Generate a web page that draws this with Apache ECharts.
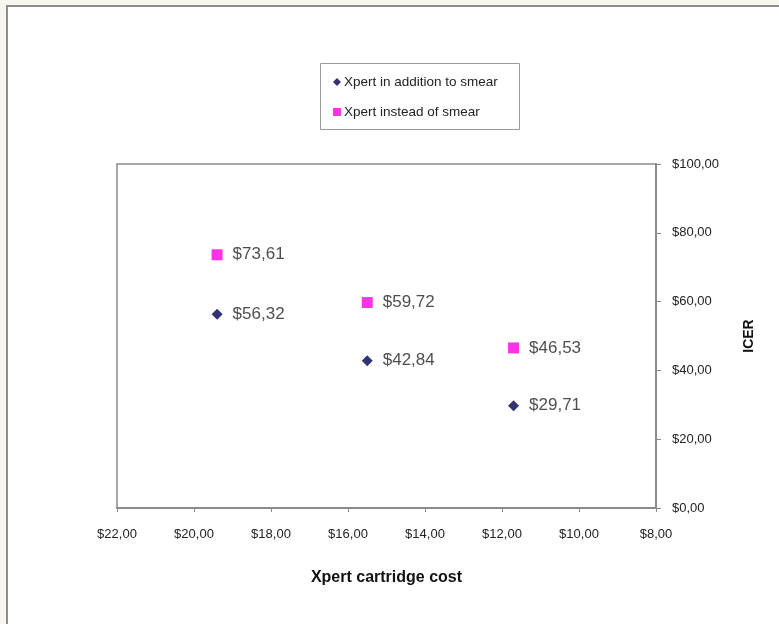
<!DOCTYPE html>
<html>
<head>
<meta charset="utf-8">
<script src="https://cdn.jsdelivr.net/npm/echarts@6/dist/echarts.min.js"></script>
<style>
html,body{margin:0;padding:0;background:#f6f6ef;}
#c{width:779px;height:624px;}
</style>
</head>
<body>
<div id="c"></div>
<script>
const cartridgeCost = [19.4, 15.5, 11.7];
const icerAddition = [56.32, 42.84, 29.71];
const icerInstead = [73.61, 59.72, 46.53];
const seriesNames = ['Xpert in addition to smear', 'Xpert instead of smear'];
const xTitle = 'Xpert cartridge cost';
const yTitle = 'ICER';

function money(v) { return '$' + Number(v).toFixed(2).replace('.', ','); }

const chart = echarts.init(document.getElementById('c'), null, {renderer: 'canvas'});
const font = 'Liberation Sans, Arial, sans-serif';
const axisGray = '#8a8a8a';

chart.setOption({
  backgroundColor: 'transparent',
  animation: false,
  graphic: [
    {
      type: 'rect', z: -10,
      shape: {x: 7, y: 6, width: 800, height: 650},
      style: {fill: '#ffffff', stroke: '#8c8c8c', lineWidth: 2}
    },
    {
      type: 'rect', z: -5,
      shape: {x: 320.5, y: 63.5, width: 199, height: 66},
      style: {fill: '#ffffff', stroke: '#9a9a9a', lineWidth: 1}
    }
  ],
  legend: {
    left: 333, top: 75,
    orient: 'vertical',
    padding: 0,
    itemGap: 16,
    itemWidth: 8, itemHeight: 8,
    textStyle: {fontFamily: font, fontSize: 13.5, color: '#222', padding: [0, 0, 0, -2]},
    data: [
      {name: seriesNames[0], icon: 'diamond'},
      {name: seriesNames[1], icon: 'rect'}
    ]
  },
  grid: {
    left: 117, top: 164, right: 123, bottom: 116,
    show: true, borderColor: axisGray, borderWidth: 1.5, backgroundColor: '#fff'
  },
  xAxis: {
    type: 'value', inverse: true, min: 8, max: 22, interval: 2,
    name: xTitle, nameLocation: 'middle', nameGap: 62,
    nameTextStyle: {fontFamily: font, fontSize: 16, fontWeight: 'bold', color: '#111'},
    axisLine: {show: true, onZero: false, lineStyle: {color: axisGray, width: 2}},
    axisTick: {show: true, length: 4, lineStyle: {color: axisGray}},
    splitLine: {show: false},
    axisLabel: {fontFamily: font, fontSize: 13, color: '#222', margin: 20, formatter: money}
  },
  yAxis: {
    type: 'value', position: 'right', min: 0, max: 100, interval: 20,
    name: yTitle, nameLocation: 'middle', nameGap: 86, nameRotate: 90,
    nameTextStyle: {fontFamily: font, fontSize: 14, fontWeight: 'bold', color: '#111'},
    axisLine: {show: true, lineStyle: {color: axisGray, width: 2}},
    axisTick: {show: true, length: 5, lineStyle: {color: axisGray}},
    splitLine: {show: false},
    axisLabel: {fontFamily: font, fontSize: 13, color: '#222', margin: 16, formatter: money}
  },
  series: [
    {
      name: seriesNames[0], type: 'scatter', symbol: 'diamond', symbolSize: 11,
      itemStyle: {color: '#000050'},
      data: cartridgeCost.map((x, i) => [x, icerAddition[i]]),
      label: {show: true, position: 'right', distance: 10, fontFamily: font, fontSize: 17, color: '#222',
        formatter: p => money(p.value[1])}
    },
    {
      name: seriesNames[1], type: 'scatter', symbol: 'rect', symbolSize: 11,
      itemStyle: {color: '#ff00dd'},
      data: cartridgeCost.map((x, i) => [x, icerInstead[i]]),
      label: {show: true, position: 'right', distance: 10, fontFamily: font, fontSize: 17, color: '#222',
        formatter: p => money(p.value[1])}
    }
  ]
});
</script>
</body>
</html>
